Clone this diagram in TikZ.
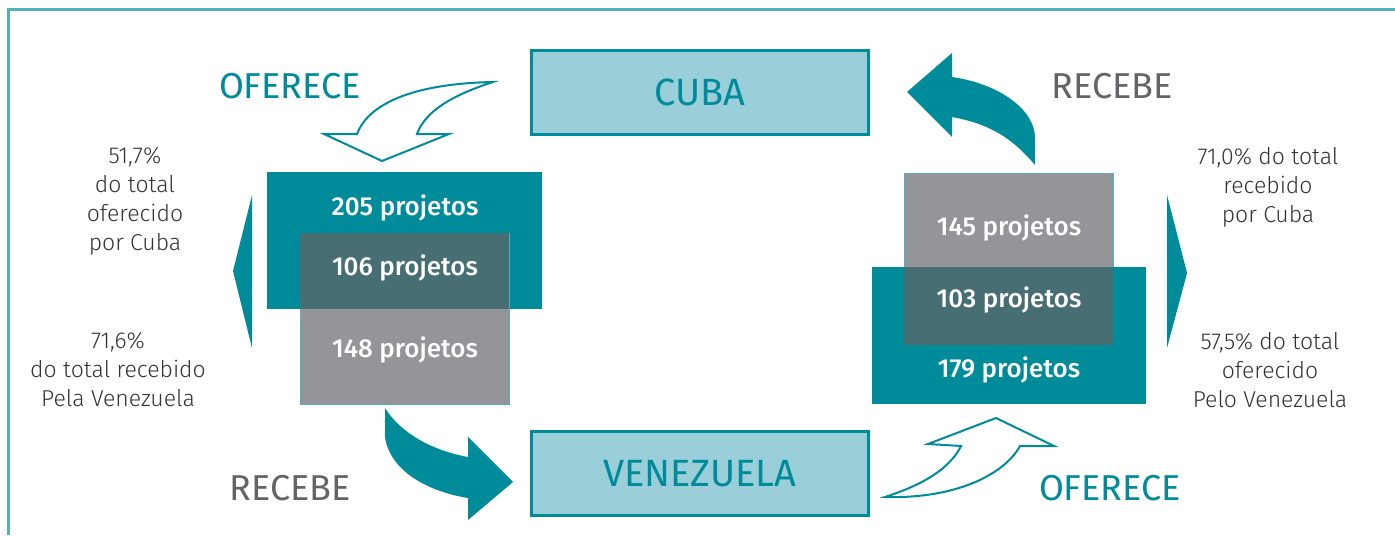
\documentclass[tikz,border=0pt]{standalone}
\usepackage{fontspec}
\setmainfont{Fira Sans Light}
\newfontfamily\medfont{Fira Sans Medium}
\newfontfamily\regfont{Fira Sans}
\usetikzlibrary{positioning}
\definecolor{cteal}{HTML}{008B9B}
\definecolor{clight}{HTML}{9ACFD9}
\definecolor{cgray}{HTML}{939598}
\definecolor{cover}{HTML}{476E73}
\definecolor{cframe}{HTML}{52B1BC}
\definecolor{ctext}{HTML}{333333}
\definecolor{clabel}{HTML}{636466}

\begin{document}
\begin{tikzpicture}[x=0.5pt, y=-0.5pt,
	country/.style={draw=cteal, line width=1.5pt, fill=clight, text=cteal, inner sep=0, minimum width=168.5pt, minimum height=42pt, font=\regfont\fontsize{19}{19}\selectfont},
	tealbox/.style={fill=cteal, inner sep=0},
	graybox/.style={fill=cgray, draw=cframe, line width=0.5pt, inner sep=0},
	overbox/.style={fill=cover, inner sep=0},
	count/.style={text=white, font=\medfont\fontsize{13}{13}\selectfont},
	share/.style={text=ctext, align=center, font=\fontsize{11.5}{14.5}\selectfont},
	verb/.style={font=\regfont\fontsize{18}{18}\selectfont},
	hollow/.style={draw=cteal, line width=1pt, fill=white, line join=miter},
	solid/.style={fill=cteal},
	]
	\useasboundingbox (0, 0) rectangle (1395, 535);
	% frame
	\draw [cframe, line width=1.5pt] (8.5, 535) -- (8.5, 9.5) -- (1395, 9.5);

	% countries
	\node[country] (cuba) at (700, 92.5) {CUBA};
	\node[country] (venezuela) at (700, 473.5) {VENEZUELA};

	% left block
	\node[tealbox, minimum width=137.5pt, minimum height=68.5pt] (offerL) at (404.5, 240.5) {};
	\node[graybox, minimum width=104.5pt, minimum height=85.5pt] (recvL) at (404.5, 318.5) {};
	\node[overbox, minimum width=104.5pt, minimum height=38pt] (bothL) at (404.5, 271) {};
	\node[count] (nOfferL) at (405, 208) {205 projetos};
	\node[count] (nBothL) at (405, 268) {106 projetos};
	\node[count] (nRecvL) at (405, 350) {148 projetos};

	% right block
	\node[graybox, minimum width=104.5pt, minimum height=86pt] (recvR) at (1008.5, 259) {};
	\node[tealbox, minimum width=137pt, minimum height=68.5pt] (offerR) at (1009, 335.5) {};
	\node[overbox, minimum width=104.5pt, minimum height=39pt] (bothR) at (1008.5, 306) {};
	\node[count] (nRecvR) at (1009, 228) {145 projetos};
	\node[count] (nBothR) at (1009, 300) {103 projetos};
	\node[count] (nOfferR) at (1009, 370) {179 projetos};

	% verbs
	\node[verb, text=cteal] (offerTop) at (290, 86) {OFERECE};
	\node[verb, text=clabel] (recvTop) at (1112, 86) {RECEBE};
	\node[verb, text=clabel] (recvBot) at (290, 488) {RECEBE};
	\node[verb, text=cteal] (offerBot) at (1110, 488) {OFERECE};

	% shares
	\node[share] (shareL1) at (135, 201) {51,7\%\\do total\\oferecido\\por Cuba};
	\node[share] (shareL2) at (118, 370) {71,6\%\\do total recebido\\Pela Venezuela};
	\node[share] (shareR1) at (1268, 187) {71,0\% do total\\recebido\\por Cuba};
	\node[share] (shareR2) at (1270, 370) {57,5\% do total\\oferecido\\Pelo Venezuela};

	% side wedges
	\fill[cteal] (252, 195) -- (233, 271) -- (252, 348) -- cycle;
	\fill[cteal] (1167, 195) -- (1187, 273) -- (1167, 348) -- cycle;

	% arrows
	\draw[hollow] (493, 82) .. controls (400, 84) and (366, 110) .. (357, 134) -- (324, 134) -- (382, 161)
		-- (449, 134) -- (417, 134) .. controls (425, 112) and (450, 96) .. cycle;
	\fill[solid] (1035, 165) -- (1035, 138) .. controls (1035, 110) and (1000, 84) .. (952, 77) -- (952, 53)
		-- (907, 92) -- (952, 137) -- (952, 117) .. controls (990, 124) and (1012, 138) .. cycle;
	\fill[solid] (385, 408) -- (385, 437) .. controls (390, 472) and (430, 492) .. (468, 498) -- (468, 520)
		-- (513, 482) -- (468, 437) -- (468, 457) .. controls (430, 450) and (400, 432) .. cycle;
	\draw[hollow] (885, 497) .. controls (960, 499) and (1006, 472) .. (1020, 446) -- (1054, 446) -- (996, 418)
		-- (928, 444) -- (961, 446) .. controls (950, 468) and (925, 484) .. cycle;
\end{tikzpicture}
\end{document}
